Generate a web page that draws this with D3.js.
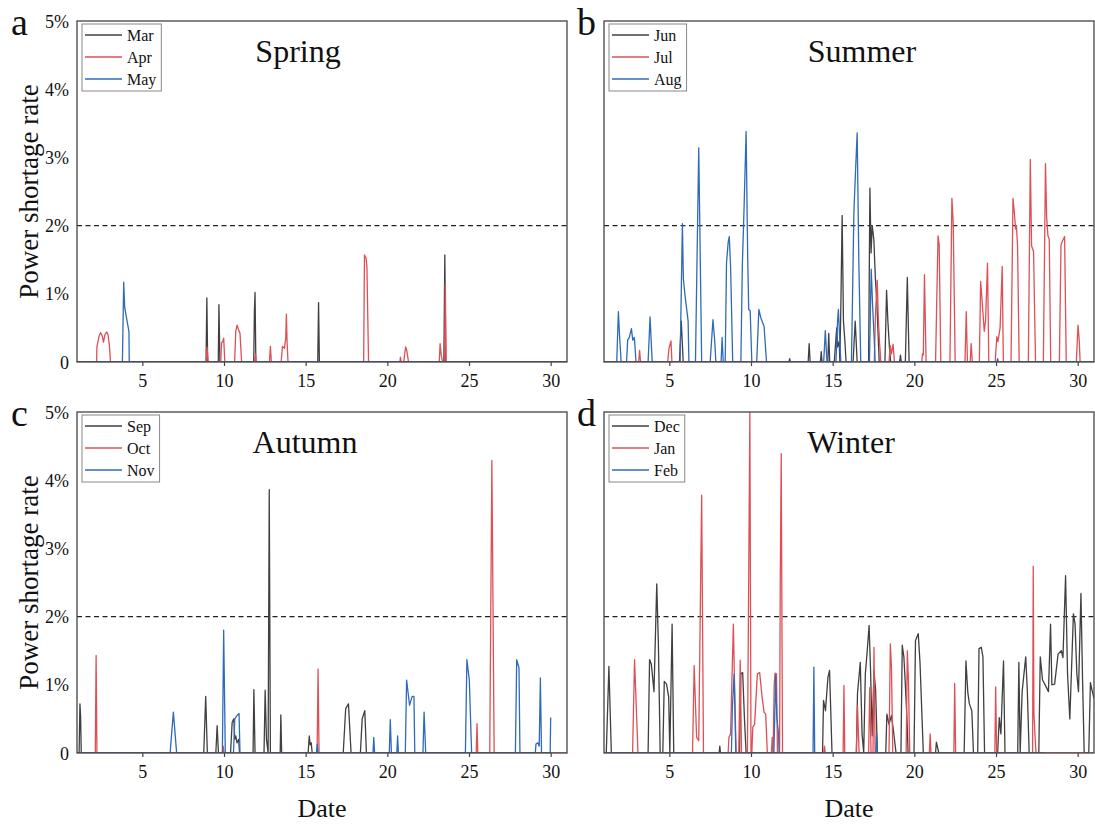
<!DOCTYPE html>
<html>
<head>
<meta charset="utf-8">
<script src="https://cdn.jsdelivr.net/npm/d3@7"></script>
<style>
  body { margin: 0; background: #fff; }
  svg { display: block; }
  svg text { font-family: "Liberation Serif", "DejaVu Serif", "Noto Serif", "Times New Roman", Times, serif; }
</style>
</head>
<body>
<div id="chart"></div>
<script>
const width = 1095;
const height = 827;

const xTicks = [5, 10, 15, 20, 25, 30];
const yTicks = [0, 1, 2, 3, 4, 5];
const threshold = 2;

// each series is [day, power shortage rate in %], zeros mark where a spike starts and ends
const mar = [[1,0],[8.9,0],[8.95,0.94],[9.0,0],[9.65,0],[9.69,0.84],[9.75,0],[11.82,0],[11.86,0.73],[11.9,1.02],[11.95,0],
  [15.74,0],[15.79,0.87],[15.84,0],[23.46,0],[23.52,1.57],[23.58,0],[31,0]];
const apr = [[1,0],[2.2,0],[2.22,0.22],[2.35,0.38],[2.45,0.43],[2.55,0.38],[2.62,0.29],[2.72,0.41],[2.82,0.44],[2.9,0.4],[2.98,0.25],[3.05,0],
  [8.92,0],[8.96,0.22],[9.0,0.1],[9.03,0],[9.8,0],[9.85,0.28],[9.92,0.3],[9.98,0.35],[10.05,0],
  [10.65,0],[10.72,0.45],[10.8,0.54],[10.9,0.47],[10.98,0.42],[11.08,0],[11.88,0],[11.92,0.12],[11.98,0],
  [12.78,0],[12.84,0.23],[12.9,0],[13.5,0],[13.58,0.23],[13.7,0.2],[13.78,0.35],[13.82,0.7],[13.86,0.3],[13.92,0],
  [18.55,0],[18.6,1.57],[18.7,1.52],[18.75,1.4],[18.85,0],[20.77,0],[20.8,0.07],[20.85,0],[21.0,0],[21.12,0.22],[21.18,0.18],[21.3,0],
  [23.18,0],[23.23,0.27],[23.3,0.1],[23.38,0],[23.5,0],[23.55,1.15],[23.6,0],[30,0]];
const may = [[1,0],[3.78,0],[3.86,1.17],[3.92,0.8],[4.05,0.62],[4.18,0.45],[4.2,0],[31,0]];

const jun = [[1,0],[5.62,0],[5.73,0.6],[5.85,0],[12.33,0],[12.37,0.05],[12.41,0],[13.5,0],[13.56,0.27],[13.62,0],
  [14.25,0],[14.3,0.15],[14.35,0],[14.7,0],[14.76,0.42],[14.82,0],
  [15.1,0],[15.2,0.35],[15.25,0.5],[15.3,0.22],[15.4,0.3],[15.44,0],[15.5,0.8],[15.58,2.15],[15.66,0.6],[15.75,0.3],[15.82,0],
  [16.25,0],[16.38,0.6],[16.5,0],[17.2,0],[17.28,2.55],[17.35,1.6],[17.42,2.0],[17.52,1.8],[17.62,1.2],[17.7,0.9],[17.85,0],
  [18.2,0],[18.3,1.05],[18.38,0.6],[18.48,0.2],[18.55,0],[19.1,0],[19.15,0.1],[19.2,0],[19.45,0],[19.57,1.24],[19.68,0],[30,0]];
const jul = [[1,0],[3.12,0],[3.18,0.17],[3.24,0],[4.9,0],[4.98,0.2],[5.1,0.31],[5.16,0],
  [17.55,0],[17.62,0.7],[17.73,1.2],[17.8,0.6],[17.88,0.25],[17.95,0],[18.45,0],[18.52,0.24],[18.6,0.12],[18.7,0.26],[18.78,0],
  [20.45,0],[20.5,0.12],[20.55,0.1],[20.62,1.28],[20.72,0],[21.3,0],[21.45,1.85],[21.52,1.72],[21.62,0],
  [22.18,0],[22.3,2.4],[22.38,2.05],[22.5,0],[23.1,0],[23.18,0.74],[23.25,0],[23.42,0],[23.48,0.27],[23.55,0],
  [23.98,0],[24.06,1.18],[24.15,0.9],[24.28,0.45],[24.36,0.6],[24.48,1.45],[24.56,0],
  [24.95,0],[25.05,0.37],[25.12,0.3],[25.25,0.5],[25.38,1.4],[25.45,0],
  [25.92,0],[26.04,2.4],[26.12,2.2],[26.2,1.95],[26.25,2.0],[26.32,1.7],[26.42,0],
  [26.98,0],[27.1,2.97],[27.18,1.7],[27.3,1.62],[27.42,0],[27.9,0],[28.03,2.91],[28.1,2.13],[28.18,1.85],[28.26,1.8],[28.35,0],
  [28.88,0],[28.98,1.72],[29.1,1.79],[29.2,1.84],[29.3,0],[29.92,0],[30.02,0.54],[30.1,0.3],[30.15,0],[31,0]];
const aug = [[1,0],[1.78,0],[1.88,0.74],[1.95,0.4],[2.05,0],
  [2.38,0],[2.45,0.32],[2.55,0.36],[2.68,0.49],[2.76,0.32],[2.86,0.36],[2.96,0],[3.7,0],[3.82,0.66],[3.95,0],
  [5.66,0],[5.8,2.03],[5.86,1.22],[5.95,1.0],[6.05,0.8],[6.15,0.6],[6.2,0],[6.6,0],[6.8,3.14],[6.98,0],
  [7.5,0],[7.67,0.62],[7.78,0.3],[7.85,0],[8.17,0],[8.23,0.36],[8.3,0],
  [8.42,0],[8.5,1.45],[8.6,1.75],[8.67,1.84],[8.75,1.4],[8.88,0],
  [9.38,0],[9.47,1.42],[9.58,2.3],[9.7,3.38],[9.8,1.5],[9.86,0.77],[9.95,0.75],[10.05,0],
  [10.35,0],[10.48,0.77],[10.6,0.65],[10.8,0.52],[10.95,0],[14.45,0],[14.55,0.46],[14.65,0],
  [15.2,0],[15.3,0.6],[15.35,0.77],[15.42,0.4],[15.5,0],[16.15,0],[16.3,2.2],[16.4,2.8],[16.5,3.36],[16.6,1.5],[16.72,0],
  [17.25,0],[17.36,1.36],[17.45,0.8],[17.55,0.3],[17.6,0],[25.05,0],[25.1,0.05],[25.15,0],[31,0]];

const sep = [[1,0],[1.13,0],[1.18,0.72],[1.22,0.55],[1.26,0],[8.76,0],[8.88,0.83],[8.98,0],[9.5,0],[9.58,0.4],[9.66,0],
  [10.4,0],[10.5,0.45],[10.6,0.5],[10.66,0.2],[10.72,0.25],[10.8,0.15],[10.9,0.2],[10.95,0],[11.78,0],[11.83,0.93],[11.9,0],
  [12.45,0],[12.52,0.92],[12.6,0.2],[12.7,0],[12.77,3.86],[12.84,0],[13.44,0],[13.48,0.56],[13.53,0],
  [15.15,0],[15.22,0.25],[15.28,0.12],[15.34,0.15],[15.4,0],[17.3,0],[17.45,0.65],[17.62,0.72],[17.78,0],
  [18.35,0],[18.46,0.5],[18.62,0.62],[18.72,0],[30,0]];
const oct = [[1,0],[2.12,0],[2.17,1.43],[2.22,0],[9.9,0],[9.95,0.1],[10.0,0],[15.7,0],[15.76,1.23],[15.82,0],
  [25.44,0],[25.49,0.43],[25.54,0],[26.27,0],[26.4,4.29],[26.54,0],[31,0]];
const nov = [[1,0],[6.7,0],[6.9,0.6],[7.1,0],[9.9,0],[9.98,1.8],[10.08,0],
  [10.58,0],[10.66,0.5],[10.8,0.55],[10.92,0.58],[10.98,0],[15.66,0],[15.71,0.13],[15.76,0],
  [19.12,0],[19.17,0.23],[19.22,0],[20.12,0],[20.18,0.49],[20.25,0],[20.58,0],[20.63,0.25],[20.68,0],
  [21.1,0],[21.18,1.07],[21.36,0.7],[21.52,0.83],[21.63,0.83],[21.68,0],[22.18,0],[22.25,0.6],[22.35,0],
  [24.78,0],[24.87,1.37],[25.02,1.07],[25.16,0],[27.84,0],[27.92,1.37],[28.06,1.25],[28.12,0],
  [29.06,0],[29.1,0.13],[29.22,0.15],[29.3,0.1],[29.37,1.1],[29.44,0],[29.97,0],[30.0,0.52]];

const dec = [[1,0],[1.14,0],[1.3,1.27],[1.45,0],
  [3.7,0],[3.79,1.37],[3.9,1.3],[4.06,0.9],[4.23,2.48],[4.33,1.6],[4.44,0],
  [4.6,0],[4.69,1.05],[4.83,1.01],[4.96,0.82],[5.03,0],[5.17,1.89],[5.27,0],[8.05,0],[8.09,0.1],[8.13,0],
  [9.3,0],[9.38,1.16],[9.49,1.18],[9.6,0.5],[9.7,0],[14.38,0],[14.44,0.77],[14.56,0.62],[14.71,1.11],[14.81,1.21],[14.96,0],
  [16.45,0],[16.52,0.87],[16.69,1.33],[16.8,0.28],[16.9,0],[17.0,1.16],[17.1,1.45],[17.23,1.87],[17.32,1.21],[17.42,0.25],[17.53,1.21],[17.63,0.92],[17.74,0],
  [18.25,0],[18.32,0.57],[18.45,0.42],[18.6,0.55],[18.72,0.33],[18.88,0],
  [19.18,0],[19.26,1.58],[19.36,1.41],[19.45,1.0],[19.55,0.5],[19.62,0],[19.98,0],[20.07,1.65],[20.24,1.75],[20.35,1.31],[20.55,0],
  [21.3,0],[21.35,0.16],[21.5,0],[23.05,0],[23.16,1.35],[23.27,0.9],[23.37,0.72],[23.52,0.62],[23.62,0],
  [23.88,0],[23.96,1.53],[24.1,1.55],[24.2,1.41],[24.3,0],[25.1,0],[25.2,0.52],[25.3,0.28],[25.46,1.35],[25.55,0],
  [26.33,0],[26.4,1.33],[26.48,0],[26.6,0.9],[26.82,1.41],[26.92,0.9],[27.03,0],
  [27.62,0],[27.71,1.41],[27.85,1.07],[28.07,0.97],[28.21,0.9],[28.34,1.89],[28.42,1.0],[28.59,1.01],[28.8,1.45],[29.0,1.5],[29.1,1.4],
  [29.26,2.6],[29.38,1.16],[29.52,0.5],[29.74,2.04],[29.84,1.89],[29.95,1.16],[30.05,0.9],[30.2,2.34],[30.3,1.07],[30.4,0],
  [30.68,0],[30.78,1.03],[30.9,0.9],[31,0.8]];
const jan = [[1,0],[2.75,0],[2.87,1.37],[3.08,0],[6.42,0],[6.52,1.28],[6.67,0.23],[6.8,0.18],[6.98,3.78],[7.09,0],
  [8.6,0],[8.65,0.23],[8.75,0.28],[8.92,1.89],[9.0,0.92],[9.09,0],[9.25,0],[9.34,1.36],[9.42,0],
  [9.78,0],[9.84,1.89],[9.93,5.0],[10.0,0],[10.05,0],[10.11,0.38],[10.22,0.42],[10.39,1.16],[10.53,1.18],[10.68,0.82],[10.8,0.6],[10.9,0.57],[11.0,0],
  [11.25,0],[11.3,0.23],[11.35,0],[11.42,1.0],[11.47,1.17],[11.56,1.16],[11.62,0],[11.75,0],[11.79,2.48],[11.85,4.39],[11.93,0],
  [14.45,0],[14.5,0.1],[14.55,0],[15.64,0],[15.69,0.99],[15.74,0],[16.45,0],[16.52,0.69],[16.62,0],
  [17.2,0],[17.27,0.96],[17.35,0],[17.47,0],[17.53,1.55],[17.6,0],[18.45,0],[18.53,1.6],[18.6,1.26],[18.68,0],
  [19.5,0],[19.57,1.5],[19.64,1.06],[19.72,0],[20.92,0],[20.97,0.28],[21.02,0],[22.42,0],[22.47,1.02],[22.53,0],
  [24.93,0],[24.98,0.97],[25.04,0],[27.24,0],[27.28,2.74],[27.32,0.59],[27.38,0.3],[27.45,0],[31,0]];
const feb = [[1,0],[8.8,0],[8.86,0.67],[8.97,1.16],[9.07,0],[11.4,0],[11.51,1.14],[11.58,0.52],[11.68,0.3],[11.72,0],
  [13.8,0],[13.85,1.26],[13.9,0],[17.64,0],[17.69,0.28],[17.74,0],[28,0]];

const seasons = [
  {letter: "a", title: "Spring", months: ["Mar", "Apr", "May"], series: [mar, apr, may]},
  {letter: "b", title: "Summer", months: ["Jun", "Jul", "Aug"], series: [jun, jul, aug]},
  {letter: "c", title: "Autumn", months: ["Sep", "Oct", "Nov"], series: [sep, oct, nov]},
  {letter: "d", title: "Winter", months: ["Dec", "Jan", "Feb"], series: [dec, jan, feb]}
];

const colors = ["#404040", "#de5055", "#2f6bb8"];
const pw = 490;
const ph = 341;
const layout = [
  {x: 77, y: 21, titleX: 298, letterX: 11, left: true, bottom: false},
  {x: 604, y: 21, titleX: 862, letterX: 577, left: false, bottom: false},
  {x: 77, y: 412, titleX: 305, letterX: 11, left: true, bottom: true},
  {x: 604, y: 412, titleX: 851, letterX: 577, left: false, bottom: true}
];

const x = d3.scaleLinear().domain([1, 31]).range([0, pw]);
const y = d3.scaleLinear().domain([0, 5]).range([ph, 0]);
const line = d3.line().x(d => x(d[0])).y(d => y(d[1]));

const svg = d3.select("#chart")
  .append("svg")
    .attr("width", width)
    .attr("height", height);

seasons.forEach((s, i) => {
  const p = layout[i];
  const g = svg.append("g").attr("transform", `translate(${p.x},${p.y})`);

  g.append("clipPath")
      .attr("id", "clip" + i)
    .append("rect")
      .attr("width", pw)
      .attr("height", ph);

  g.append("line")
      .attr("x1", 0)
      .attr("x2", pw)
      .attr("y1", y(threshold))
      .attr("y2", y(threshold))
      .attr("stroke", "#222")
      .attr("stroke-width", 1.1)
      .attr("stroke-dasharray", "5,3.5");

  g.append("g")
      .attr("clip-path", `url(#clip${i})`)
    .selectAll("path")
    .data(s.series)
    .join("path")
      .attr("fill", "none")
      .attr("stroke", (d, j) => colors[j])
      .attr("stroke-width", 1.3)
      .attr("stroke-linejoin", "round")
      .attr("d", line);

  g.append("rect")
      .attr("width", pw)
      .attr("height", ph)
      .attr("fill", "none")
      .attr("stroke", "#444")
      .attr("stroke-width", 1.3);

  const xAxis = g.append("g")
      .attr("transform", `translate(0,${ph})`)
      .call(d3.axisBottom(x).tickValues(xTicks).tickSize(4).tickPadding(8));
  xAxis.select(".domain").remove();

  if (p.left) {
    const yAxis = g.append("g")
        .call(d3.axisLeft(y).tickValues(yTicks).tickSize(0).tickPadding(8)
          .tickFormat(d => d === 0 ? "0" : d + "%"));
    yAxis.select(".domain").remove();
    yAxis.selectAll("text").attr("dy", "0.34em");

    svg.append("text")
        .attr("transform", `translate(38,${p.y + ph / 2}) rotate(-90)`)
        .attr("text-anchor", "middle")
        .attr("font-size", 27)
        .attr("fill", "#111")
        .text("Power shortage rate");
  }

  g.selectAll(".tick text")
      .attr("font-family", null)
      .attr("font-size", 18)
      .attr("fill", "#111");
  g.selectAll(".tick line").attr("stroke", "#444").attr("stroke-width", 1.2);

  if (p.bottom) {
    svg.append("text")
        .attr("x", p.x + pw / 2)
        .attr("y", 817)
        .attr("text-anchor", "middle")
        .attr("font-size", 26)
        .attr("fill", "#111")
        .text("Date");
  }

  svg.append("text")
      .attr("x", p.letterX)
      .attr("y", p.y + 14)
      .attr("font-size", 38)
      .attr("fill", "#111")
      .text(s.letter);

  svg.append("text")
      .attr("x", p.titleX)
      .attr("y", p.y + 41)
      .attr("text-anchor", "middle")
      .attr("font-size", 32)
      .attr("fill", "#111")
      .text(s.title);

  const legend = g.append("g").attr("transform", "translate(5,3)");
  const box = legend.append("rect")
      .attr("height", 67)
      .attr("fill", "#fff")
      .attr("stroke", "#888")
      .attr("stroke-width", 1);
  const item = legend.selectAll(".item")
    .data(s.months)
    .join("g")
      .attr("class", "item")
      .attr("transform", (d, j) => `translate(0,${11 + j * 22})`);
  item.append("line")
      .attr("x1", 3)
      .attr("x2", 40)
      .attr("stroke", (d, j) => colors[j])
      .attr("stroke-width", 1.3);
  const labels = item.append("text")
      .attr("x", 45)
      .attr("dy", "0.35em")
      .attr("font-size", 16)
      .attr("fill", "#111")
      .text(d => d);
  const tw = d3.max(labels.nodes(), n => n.getComputedTextLength());
  box.attr("width", 45 + tw + 5);
});
</script>
</body>
</html>
